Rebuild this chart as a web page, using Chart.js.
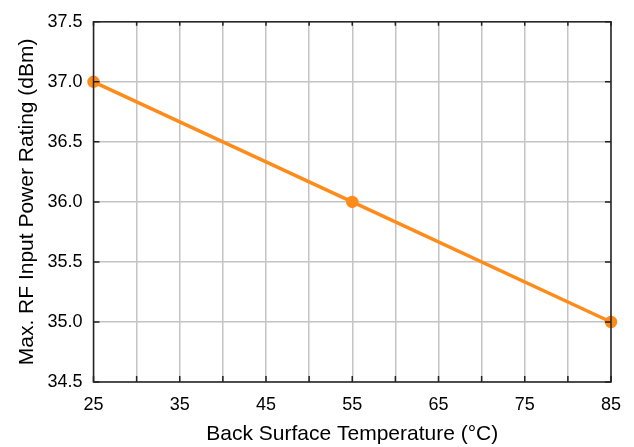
<!DOCTYPE html>
<html><head><meta charset="utf-8">
<script src="https://cdn.jsdelivr.net/npm/chart.js@4/dist/chart.umd.min.js"></script>
<style>html,body{margin:0;padding:0;background:#fff}#w{width:634px;height:447px}</style>
</head><body><div id="w"><canvas id="c"></canvas></div>
<script>
const temperatures = [25, 55, 85];
const powerRating = [37.0, 36.0, 35.0];
const xTitle = 'Back Surface Temperature (°C)';
const yTitle = 'Max. RF Input Power Rating (dBm)';

const frame = {
  id: 'frame',
  afterDatasetsDraw(chart) {
    const {ctx, chartArea: a, scales: {x, y}} = chart;
    ctx.save();
    ctx.strokeStyle = '#222';
    ctx.lineWidth = 1.5;
    ctx.beginPath();
    for (let v = 25; v <= 85; v += 5) {
      const px = x.getPixelForValue(v);
      ctx.moveTo(px, a.top); ctx.lineTo(px, a.top + 4);
      ctx.moveTo(px, a.bottom); ctx.lineTo(px, a.bottom - 6);
    }
    for (let v = 34.5; v <= 37.5001; v += 0.5) {
      const py = y.getPixelForValue(v);
      ctx.moveTo(a.left, py); ctx.lineTo(a.left + 6, py);
      ctx.moveTo(a.right, py); ctx.lineTo(a.right - 6, py);
    }
    ctx.stroke();
    ctx.strokeRect(a.left, a.top, a.right - a.left, a.bottom - a.top);
    ctx.restore();
  }
};

new Chart(document.getElementById('c'), {
  type: 'line',
  data: { datasets: [{
    data: temperatures.map((t, i) => ({x: t, y: powerRating[i]})),
    borderColor: '#FF8C1A', backgroundColor: '#FF8C1A',
    borderWidth: 3.5, pointRadius: 4.5, pointHoverRadius: 4.5, tension: 0, clip: false
  }]},
  options: {
    responsive: true, maintainAspectRatio: false, animation: false,
    layout: { padding: { top: 20, right: 23, left: 0, bottom: 0 } },
    plugins: { legend: { display: false }, tooltip: { enabled: false } },
    scales: {
      x: {
        type: 'linear', min: 25, max: 85,
        afterFit(s) { s.height = 65; },
        border: { display: false },
        grid: { color: '#c4c4c4', lineWidth: 1.5, drawTicks: false },
        ticks: { stepSize: 5, padding: 12, color: '#000', font: { family: 'Liberation Sans', size: 18 },
          callback: v => ((v - 25) % 10 === 0 ? String(v) : ''), autoSkip: false, maxRotation: 0 },
        title: { display: true, text: xTitle, color: '#000', font: { family: 'Liberation Sans', size: 21 }, padding: { top: 1, bottom: 0 } }
      },
      y: {
        min: 34.5, max: 37.5,
        afterFit(s) { s.width = 93.5; },
        border: { display: false },
        grid: { color: '#c4c4c4', lineWidth: 1.5, drawTicks: false },
        ticks: { stepSize: 0.5, padding: 11, color: '#000', font: { family: 'Liberation Sans', size: 18 },
          callback: v => v.toFixed(1) },
        title: { display: true, text: yTitle, color: '#000', font: { family: 'Liberation Sans', size: 21 }, padding: { top: 15, bottom: 0 } }
      }
    }
  },
  plugins: [frame]
});
</script></body></html>
